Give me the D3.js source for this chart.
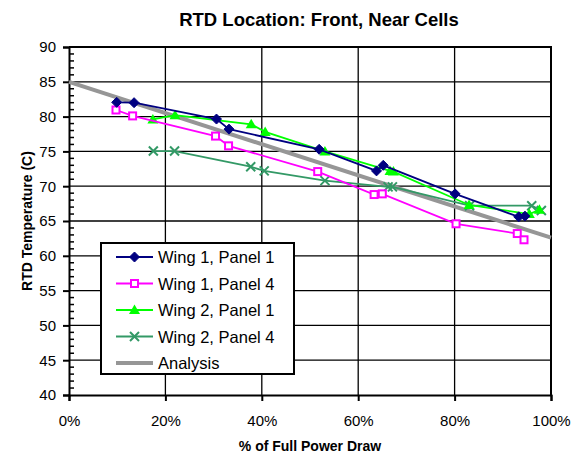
<!DOCTYPE html>
<html>
<head>
<meta charset="utf-8">
<script src="https://cdn.jsdelivr.net/npm/d3@7"></script>
<style>
  html, body { margin: 0; padding: 0; background: #fff; }
  svg { display: block; font-family: "Liberation Sans", Arial, sans-serif; }
</style>
</head>
<body>
<svg id="chart" width="581" height="456"></svg>
<script>
// Measured RTD temperatures vs. percent of full power draw
const wing1Panel1 = [[9.9, 82.05], [13.5, 82.0], [30.6, 79.65], [33.2, 78.2], [51.9, 75.3], [63.8, 72.2], [65.2, 73.0], [80.1, 68.9], [93.3, 65.6], [94.6, 65.7]];
const wing1Panel4 = [[9.75, 80.95], [13.2, 80.1], [30.4, 77.2], [33.1, 75.8], [51.6, 72.1], [63.3, 68.8], [65.0, 68.9], [80.3, 64.6], [93.0, 63.2], [94.4, 62.3]];
const wing2Panel1 = [[17.4, 79.6], [22.0, 80.2], [37.8, 78.9], [40.7, 77.8], [53.1, 75.0], [66.6, 72.2], [67.3, 72.1], [83.0, 67.3], [95.5, 66.0], [97.6, 66.6]];
const wing2Panel4 = [[17.5, 75.05], [21.9, 75.05], [37.7, 72.8], [40.5, 72.2], [53.1, 70.8], [66.2, 69.9], [67.1, 69.9], [83.1, 67.2], [96.0, 67.2], [98.0, 66.5]];
const analysis = [[0, 85.0], [100, 62.6]];

const xTicks = [0, 20, 40, 60, 80, 100];
const yTicks = [40, 45, 50, 55, 60, 65, 70, 75, 80, 85, 90];

const seriesNames = ["Wing 1, Panel 1", "Wing 1, Panel 4", "Wing 2, Panel 1", "Wing 2, Panel 4", "Analysis"];
const seriesData = [wing1Panel1, wing1Panel4, wing2Panel1, wing2Panel4, analysis];
const seriesColors = ["#000080", "#FF00FF", "#00FF00", "#339966", "#969696"];
const seriesMarkers = ["diamond", "square", "triangle", "x", "none"];

const svg = d3.select("#chart");
const plot = { left: 69, right: 551, top: 47, bottom: 395 };

const x = d3.scaleLinear().domain([0, 100]).range([plot.left, plot.right]);
const y = d3.scaleLinear().domain([40, 90]).range([plot.bottom, plot.top]);

// Gridlines
svg.append("g")
  .selectAll("line")
  .data(yTicks.filter(v => v > 40 && v < 90))
  .join("line")
  .attr("x1", plot.left).attr("x2", plot.right)
  .attr("y1", d => y(d)).attr("y2", d => y(d))
  .attr("stroke", "#000").attr("stroke-width", 1.3);
svg.append("g")
  .selectAll("line")
  .data(xTicks.filter(v => v > 0 && v < 100))
  .join("line")
  .attr("x1", d => x(d)).attr("x2", d => x(d))
  .attr("y1", plot.top).attr("y2", plot.bottom)
  .attr("stroke", "#000").attr("stroke-width", 1.3);

// Plot frame (top and right)
svg.append("path")
  .attr("d", `M${plot.left},${plot.top}H${plot.right}V${plot.bottom}`)
  .attr("fill", "none").attr("stroke", "#000").attr("stroke-width", 2);

// X axis
const xAxis = d3.axisBottom(x).tickValues(xTicks).tickFormat(d => d + "%").tickSize(6).tickPadding(14);
const gx = svg.append("g").attr("transform", `translate(0,${plot.bottom})`).call(xAxis);
gx.select(".domain").attr("stroke-width", 2);
gx.selectAll(".tick line").attr("stroke-width", 2);
gx.selectAll("text").attr("font-size", 15).attr("fill", "#000").attr("font-family", "Liberation Sans, Arial, sans-serif");

// Y axis: major ticks outside, minor ticks inside
const yAxis = d3.axisLeft(y).tickValues(yTicks).tickSize(6).tickPadding(7);
const gy = svg.append("g").attr("transform", `translate(${plot.left},0)`).call(yAxis);
gy.select(".domain").attr("stroke-width", 2);
gy.selectAll(".tick line").attr("stroke-width", 2);
gy.selectAll("text").attr("font-size", 15).attr("fill", "#000").attr("font-family", "Liberation Sans, Arial, sans-serif");
const minor = d3.range(41, 90).filter(v => v % 5 !== 0);
svg.append("g").selectAll("line")
  .data(minor)
  .join("line")
  .attr("x1", plot.left).attr("x2", plot.left + 5)
  .attr("y1", d => y(d)).attr("y2", d => y(d))
  .attr("stroke", "#000").attr("stroke-width", 1.5);

// Titles
svg.append("text")
  .attr("x", 319).attr("y", 26)
  .attr("text-anchor", "middle")
  .attr("font-size", 18.5).attr("font-weight", "bold")
  .text("RTD Location: Front, Near Cells");
svg.append("text")
  .attr("x", 310).attr("y", 451)
  .attr("text-anchor", "middle")
  .attr("font-size", 14).attr("font-weight", "bold")
  .text("% of Full Power Draw");
svg.append("text")
  .attr("transform", `translate(32,${(plot.top + plot.bottom) / 2}) rotate(-90)`)
  .attr("text-anchor", "middle")
  .attr("font-size", 14).attr("font-weight", "bold")
  .text("RTD Temperature (C)");

// Marker drawing
function drawMarker(g, type, color) {
  if (type === "diamond") {
    g.append("path").attr("d", "M0,-5L5,0L0,5L-5,0Z").attr("fill", color).attr("stroke", color).attr("stroke-width", 1);
  } else if (type === "square") {
    g.append("rect").attr("x", -3.5).attr("y", -3.5).attr("width", 7).attr("height", 7)
      .attr("fill", "#fff").attr("stroke", color).attr("stroke-width", 2);
  } else if (type === "triangle") {
    g.append("path").attr("d", "M0,-5.5L5.5,4L-5.5,4Z").attr("fill", color);
  } else if (type === "x") {
    g.append("path").attr("d", "M-4.5,-4.5L4.5,4.5M-4.5,4.5L4.5,-4.5").attr("stroke", color).attr("stroke-width", 2).attr("fill", "none");
  }
}

const line = d3.line().x(d => x(d[0])).y(d => y(d[1]));

// Draw series: analysis first (underneath), then measured data
const order = [4, 3, 2, 1, 0];
order.forEach(i => {
  const g = svg.append("g");
  g.append("path")
    .attr("d", line(seriesData[i]))
    .attr("fill", "none")
    .attr("stroke", seriesColors[i])
    .attr("stroke-width", i === 4 ? 4 : 1.8);
  if (seriesMarkers[i] !== "none") {
    seriesData[i].forEach(d => {
      const m = g.append("g").attr("transform", `translate(${x(d[0])},${y(d[1])})`);
      drawMarker(m, seriesMarkers[i], seriesColors[i]);
    });
  }
});

// Legend
const legend = svg.append("g").attr("transform", "translate(101,243)");
legend.append("rect").attr("width", 193).attr("height", 131)
  .attr("fill", "#fff").attr("stroke", "#000").attr("stroke-width", 2);
seriesNames.forEach((name, i) => {
  const ry = 14 + i * 26.5;
  const row = legend.append("g").attr("transform", `translate(0,${ry})`);
  row.append("line").attr("x1", 15).attr("x2", 52).attr("y1", 0).attr("y2", 0)
    .attr("stroke", seriesColors[i]).attr("stroke-width", i === 4 ? 4 : 1.8);
  if (seriesMarkers[i] !== "none") {
    const m = row.append("g").attr("transform", "translate(33.5,0)");
    drawMarker(m, seriesMarkers[i], seriesColors[i]);
  }
  row.append("text").attr("x", 57).attr("y", 6).attr("font-size", 16.5).attr("fill", "#000").text(name);
});
</script>
</body>
</html>
